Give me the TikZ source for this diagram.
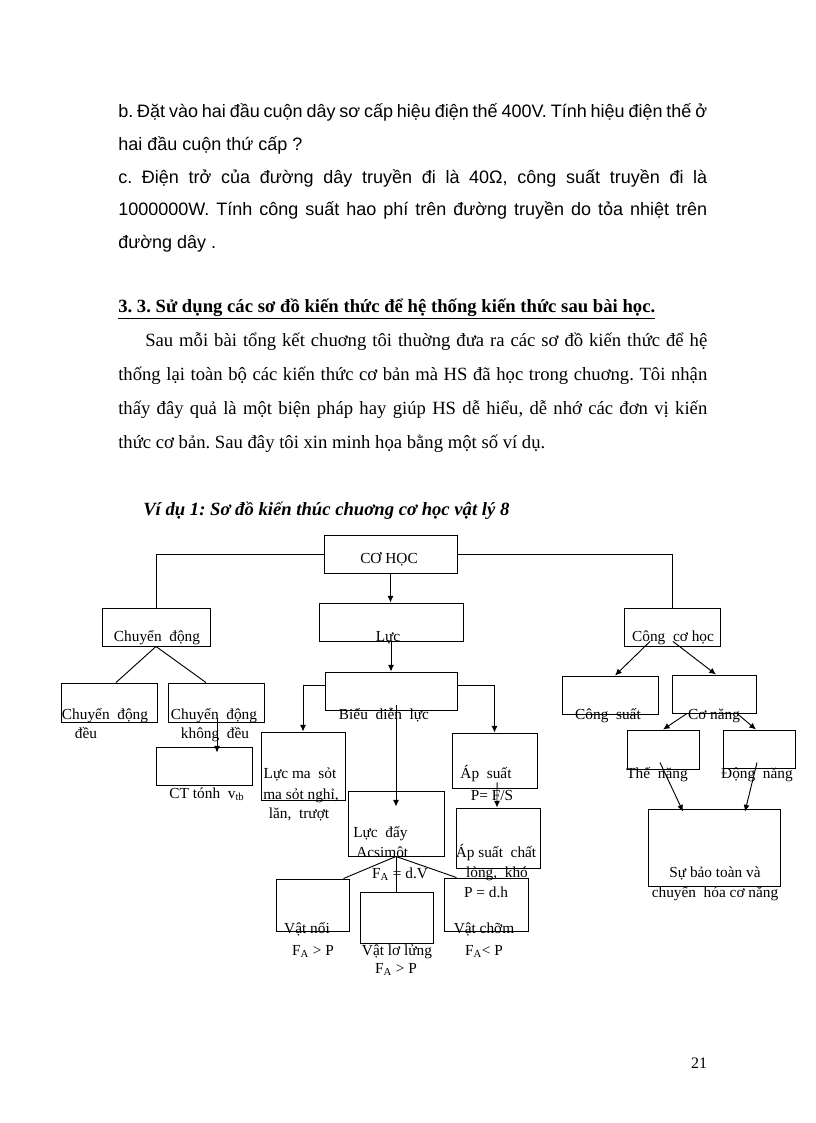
\documentclass[tikz,border=0pt]{standalone}
\usepackage{fontspec}
\setmainfont{Liberation Serif}
\newfontfamily\arialfont{Liberation Sans}
\usetikzlibrary{arrows}
\usetikzlibrary{arrows.meta}
\frenchspacing

\begin{document}
\begin{tikzpicture}[x=0.75pt,y=-0.75pt,
        hop/.style={draw,line width=0.7pt,inner sep=0pt},
        chu/.style={font=\fontsize{11.5}{15}\selectfont,anchor=base,inner sep=0pt},
        vanA/.style={font=\arialfont\fontsize{13.5}{16}\selectfont,anchor=base west,inner sep=0pt},
        vanT/.style={font=\fontsize{14}{20}\selectfont,anchor=base west,inner sep=0pt},
        noi/.style={line width=0.7pt},
        mui/.style={line width=0.7pt,-{Latex[length=5pt,width=4.5pt]}}]
        \fill[white] (0,0) rectangle (816,1123);
        \useasboundingbox (0,0) rectangle (816,1123);
        % doan van ben tren
        \node[vanA] (b1) at (118,118) {\makebox[441.75pt][s]{b. Đặt vào hai đầu cuộn dây sơ cấp hiệu điện thế 400V. Tính hiệu điện thế ở}};
        \node[vanA] (b2) at (118,151) {hai đầu cuộn thứ cấp ?};
        \node[vanA] (c1) at (118,184) {\makebox[441.75pt][s]{c. Điện trở của đường dây truyền đi là 40Ω, công suất truyền đi là}};
        \node[vanA] (c2) at (118,216) {\makebox[441.75pt][s]{1000000W. Tính công suất hao phí trên đường truyền do tỏa nhiệt trên}};
        \node[vanA] (c3) at (118,248) {đường dây .};
        \node[vanT] (muc) at (118,312) {\underline{\makebox[402.75pt][s]{\bfseries 3. 3. Sử dụng các sơ đồ kiến thức để hệ thống kiến thức sau bài học.}}};
        \node[vanT] (p1) at (145,346) {\makebox[421.5pt][s]{Sau mỗi bài tổng kết chuơng tôi thuờng đưa ra các sơ đồ kiến thức để hệ}};
        \node[vanT] (p2) at (118,380) {\makebox[441.75pt][s]{thống lại toàn bộ các kiến thức cơ bản mà HS đã học trong chuơng. Tôi nhận}};
        \node[vanT] (p3) at (118,414) {\makebox[441.75pt][s]{thấy đây quả là một biện pháp hay giúp HS dễ hiểu, dễ nhớ các đơn vị kiến}};
        \node[vanT] (p4) at (118,448) {thức cơ bản. Sau đây tôi xin minh họa bằng một số ví dụ.};
        \node[vanT] (vidu) at (143,515) {\bfseries\itshape Ví dụ 1: Sơ đồ kiến thúc chuơng cơ học vật lý 8};

        % cac o
        \node[hop,minimum width=99.75pt,minimum height=28.5pt] (coh) at (390.5,554) {};
        \node[hop,minimum width=81pt,minimum height=28.5pt] (cd) at (156,627) {};
        \node[hop,minimum width=72pt,minimum height=28.5pt] (cch) at (672,627) {};
        \node[hop,minimum width=108pt,minimum height=28.5pt] (luc) at (391,622) {};
        \node[hop,minimum width=99pt,minimum height=28.5pt] (bdl) at (391,691) {};
        \node[hop,minimum width=72pt,minimum height=29.25pt] (cdd) at (109,702.5) {};
        \node[hop,minimum width=72pt,minimum height=29.25pt] (cdkd) at (216,702.5) {};
        \node[hop,minimum width=72pt,minimum height=28.5pt] (ctv) at (204,766) {};
        \node[hop,minimum width=63pt,minimum height=51pt] (lms) at (303,766) {};
        \node[hop,minimum width=63.75pt,minimum height=41.25pt] (aps) at (494.5,760.5) {};
        \node[hop,minimum width=72pt,minimum height=48.75pt] (lucday) at (396,823.5) {};
        \node[hop,minimum width=63pt,minimum height=45pt] (apcl) at (498,838) {};
        \node[hop,minimum width=54.75pt,minimum height=39pt] (vno) at (312.5,905) {};
        \node[hop,minimum width=54.75pt,minimum height=38.25pt] (vll) at (396.5,917.5) {};
        \node[hop,minimum width=63pt,minimum height=39.75pt] (vch) at (486,904.5) {};
        \node[hop,minimum width=72pt,minimum height=28.5pt] (cs) at (610,695) {};
        \node[hop,minimum width=63pt,minimum height=28.5pt] (cn) at (714,694) {};
        \node[hop,minimum width=54pt,minimum height=29.25pt] (tn) at (663,749.5) {};
        \node[hop,minimum width=54pt,minimum height=28.5pt] (dn) at (759,749) {};
        \node[hop,minimum width=99pt,minimum height=57.75pt] (sbt) at (714,847.5) {};

        % duong noi
        \draw[noi] (coh.west) -| (cd.north);
        \draw[noi] (coh.east) -| (cch.north);
        \draw[mui] (coh.south) -- (coh.south |- luc.north);
        \draw[mui] (luc.south) -- (bdl.north);
        \draw[mui] ([yshift=4.5pt]bdl.west) -| (lms.north);
        \draw[mui] ([yshift=4.5pt]bdl.east) -| (aps.north);
        \draw[mui] ([xshift=3.75pt,yshift=3.75pt]bdl.south) -- ([yshift=-12pt]lucday.north);
        \draw[mui] ([xshift=1.9pt,yshift=4.5pt]aps.south) -- ([xshift=-0.75pt]apcl.north);
        \draw[noi] (lucday.south) -- ([xshift=-4.5pt]vno.north east);
        \draw[noi] (lucday.south) -- (lucday.south |- vll.north);
        \draw[noi] (lucday.south) -- ([xshift=9.75pt]vch.north west);
        \draw[noi] (cd.south) -- ([xshift=5.25pt]cdd.north);
        \draw[noi] (cd.south) -- ([xshift=-7.5pt]cdkd.north);
        \draw[mui] ([xshift=0.75pt,yshift=3pt]cdkd.south) -- ([xshift=9.75pt,yshift=-4.5pt]ctv.north);
        \draw[mui] ([xshift=-16.5pt,yshift=3.75pt]cch.south) -- ([xshift=3.75pt]cs.north);
        \draw[mui] ([xshift=0.75pt,yshift=3.75pt]cch.south) -- ([xshift=1.5pt]cn.north);
        \draw[mui] ([xshift=-20.25pt]cn.south) -- (tn.north);
        \draw[mui] ([xshift=17.25pt]cn.south) -- ([xshift=-2.25pt]dn.north);
        \draw[mui] ([xshift=-2.25pt,yshift=5.25pt]tn.south) -- ([xshift=-23.25pt,yshift=-2.25pt]sbt.north);
        \draw[mui] ([xshift=-1.5pt,yshift=4.5pt]dn.south) -- ([xshift=23.25pt,yshift=-2.25pt]sbt.north);

        % chu trong cac o
        \node[chu] (tcoh) at (389,563) {CƠ HỌC};
        \node[chu] (tcd) at (157,641) {Chuyển\ \ động};
        \node[chu] (tluc) at (388,641) {Lực};
        \node[chu] (tcch) at (673,641) {Công\ \ cơ học};
        \node[chu] (tbdl) at (384,719) {Biểu\ \ diễn\ \ lực};
        \node[chu] (tcdd1) at (105,719) {Chuyển\ \ động};
        \node[chu] (tcdd2) at (86,738) {đều};
        \node[chu] (tcdkd1) at (214,719) {Chuyển\ \ động};
        \node[chu] (tcdkd2) at (215,738) {không\ \ đều};
        \node[chu] (tctv) at (207,798) {CT tónh\ \ v\textsubscript{tb}};
        \node[chu] (tlms1) at (300,778) {Lực ma\ \ sỏt};
        \node[chu] (tlms2) at (301,799) {ma sỏt nghỉ,};
        \node[chu] (tlms3) at (299,818) {lăn,\ \ trượt};
        \node[chu] (taps1) at (486,778) {Áp\ \ suất};
        \node[chu] (taps2) at (492,800) {P= F/S};
        \node[chu,anchor=base west] (tld1) at (353,837) {Lực\ \ đẩy};
        \node[chu,anchor=base west] (tld2) at (356,857) {Acsimôt};
        \node[chu] (tld3) at (400,878) {F\textsubscript{A} = d.V};
        \node[chu] (tapcl1) at (496,857) {Áp suất\ \ chất};
        \node[chu] (tapcl2) at (497,877) {lỏng,\ \ khó};
        \node[chu] (tapcl3) at (486,897) {P = d.h};
        \node[chu] (tvno1) at (307,933) {Vật nổi};
        \node[chu] (tvno2) at (313,955) {F\textsubscript{A} > P};
        \node[chu] (tvll1) at (397,955) {Vật lơ lửng};
        \node[chu] (tvll2) at (396,973) {F\textsubscript{A} > P};
        \node[chu] (tvch1) at (484,933) {Vật chỡm};
        \node[chu] (tvch2) at (484,955) {F\textsubscript{A}< P};
        \node[chu] (tcs) at (608,719) {Công\ \ suất};
        \node[chu] (tcn) at (714,719) {Cơ năng};
        \node[chu] (ttn) at (657,778) {Thế\ \ năng};
        \node[chu] (tdn) at (757,778) {Động\ \ năng};
        \node[chu] (tsbt1) at (715,877) {Sự bảo toàn và};
        \node[chu] (tsbt2) at (715,897) {chuyển\ \ hóa cơ năng};

        \node[chu,font=\fontsize{12}{14}\selectfont] (trang) at (699,1068) {21};
\end{tikzpicture}
\end{document}
